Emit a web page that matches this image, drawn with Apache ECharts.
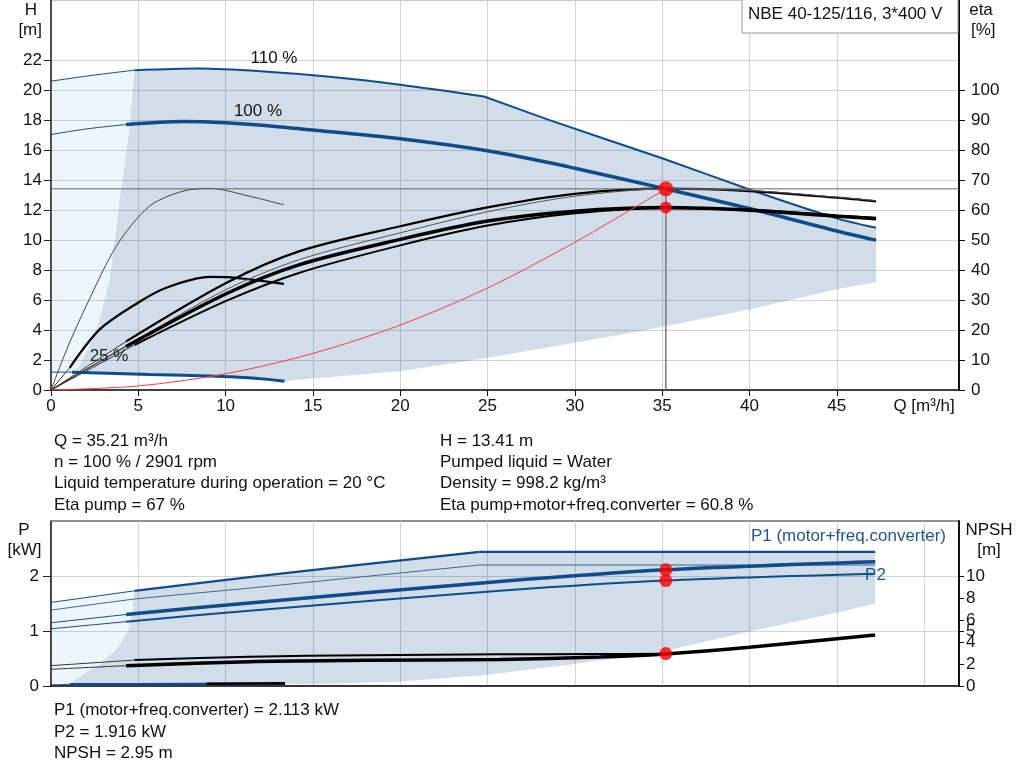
<!DOCTYPE html>
<html><head><meta charset="utf-8">
<script src="https://cdn.jsdelivr.net/npm/echarts@6/dist/echarts.min.js"></script>
<style>html,body{margin:0;padding:0;background:#fff;}#c{width:1024px;height:781px;}</style>
</head><body><div id="c"></div>
<script>
// ---------- operating point ----------
const opQ = 35.21, opH = 13.41, opEta = 60.8, opP1 = 2.113, opP2 = 1.916, opNPSH = 2.95;

// ---------- QH curves (top) ----------
const qH110 = [0, 2.5, 4.78, 8.5, 12, 15.96, 20, 24.8];
const hH110 = [20.59, 21.0, 21.32, 21.43, 21.25, 20.88, 20.35, 19.57];
const qH110max = [24.8, 28.55, 35, 40, 45.1, 47.25];
const hH110max = [19.57, 17.99, 15.45, 13.37, 11.41, 10.81];
const qH100 = [0, 2, 4.3, 7.55, 10, 13, 16, 20, 25, 28.55, 30, 35.21, 40, 45, 47.25];
const hH100 = [17.03, 17.4, 17.7, 17.9, 17.81, 17.55, 17.21, 16.75, 15.95, 15.15, 14.78, 13.41, 12.1, 10.6, 9.99];
const qH25 = [0, 1.2, 5.65, 9.5, 11.5, 13.37];
const hH25 = [1.19, 1.19, 1.03, 0.92, 0.8, 0.59];
// operating-range boundaries (top)
const qMinTop = [1.2, 1.65, 2.2, 2.79, 3.36, 3.74, 3.95, 4.2, 4.45, 4.69, 4.78];
const hMinTop = [1.19, 1.59, 2.92, 4.7, 7.37, 10.7, 12.9, 14.8, 17, 20.03, 21.32];
const qLowTop = [13.37, 14.24, 20, 25, 30, 33.7, 40, 45.1, 47.25];
const hLowTop = [0.59, 0.7, 1.25, 2.15, 3.15, 3.92, 5.37, 6.75, 7.19];
// system curve
const qSys = [0, 5, 10, 15, 20, 25, 30, 35.21];
const hSys = [0, 0.27, 1.08, 2.44, 4.33, 6.8, 9.85, 13.41];

// ---------- efficiency curves (%) ----------
const qEtaP25 = [0, 0.9, 1.83, 3.74, 5.65, 7.56, 9.08, 11.37, 13.34];
const etaP25 = [0, 13.5, 25.7, 47.9, 61.3, 66.3, 67.2, 64.6, 61.7];
const qEtaT25 = [0, 1.07, 2.79, 4.98, 6.6, 9.08, 10.6, 13.34];
const etaT25 = [0, 7.4, 20.2, 29.1, 34.1, 37.7, 37.4, 35.4];
const qEtaP100 = [0, 4.3, 10, 14.24, 20, 25, 30, 35.21, 40, 45, 47.25];
const etaP100 = [0, 16.2, 35.6, 46.3, 54.6, 60.9, 65.4, 67.1, 66.3, 64.1, 62.9];
const qEtaP110 = [0, 4.78, 10, 14.24, 20, 25, 30, 35.21, 40, 45, 47.25];
const etaP110 = [0, 16.3, 33.4, 43.5, 52.4, 59.4, 64.6, 67.0, 66.5, 64.3, 63.1];
const qEtaT100 = [0, 4.3, 10, 14.24, 20, 25, 30, 35.21, 40, 45, 47.25];
const etaT100 = [0, 14.5, 32.0, 41.8, 50.2, 56.3, 59.6, 60.8, 59.9, 57.9, 57.1];
const qEtaT110 = [0, 4.78, 10, 14.24, 20, 25, 30, 35.21, 40, 45, 47.25];
const etaT110 = [0, 15, 29.6, 39.1, 48.2, 54.8, 58.9, 60.6, 60.1, 58.2, 57.4];

// ---------- power curves (bottom, kW) ----------
const qP1_110 = [0, 4.78, 11.37, 24.54];
const pP1_110 = [1.52, 1.73, 1.98, 2.44];
const qP1_110max = [24.54, 47.2];
const pP1_110max = [2.44, 2.44];
const qP2_110 = [0, 4.78, 11.37, 24.54];
const pP2_110 = [1.38, 1.58, 1.78, 2.2];
const qP2_110max = [24.54, 47.2];
const pP2_110max = [2.2, 2.2];
const qP1_100 = [0, 4.3, 11.37, 25.7, 35.21, 47.2];
const pP1_100 = [1.15, 1.30, 1.51, 1.9, 2.113, 2.26];
const qP2_100 = [0, 4.3, 11.37, 25.7, 35.21, 47.2];
const pP2_100 = [1.04, 1.17, 1.37, 1.73, 1.916, 2.04];
const qP25 = [0, 1.06, 8, 13.4];
const pP25 = [0.02, 0.03, 0.035, 0.04];
const qP25b = [8.9, 13.4];
const pP25b = [0.04, 0.05];
// boundaries (bottom)
const qMinBot = [1.06, 1.83, 2.79, 3.83, 4.41, 4.65, 4.78];
const pMinBot = [0.03, 0.21, 0.39, 0.69, 1.0, 1.3, 1.73];
const qLowBot = [13.4, 15, 20, 24.9, 30, 35.2, 40, 44.8, 47.2];
const pLowBot = [0.04, 0.03, 0.08, 0.2, 0.4, 0.64, 0.99, 1.32, 1.5];

// ---------- NPSH (m) ----------
const qN110 = [0, 4.78, 11.37, 18, 25.7, 31, 35.21];
const nN110 = [1.85, 2.36, 2.66, 2.8, 2.88, 2.91, 2.93];
const qN100 = [0, 4.3, 11.37, 18, 25.7, 31.4, 35.21, 40, 47.2];
const nN100 = [1.52, 1.85, 2.21, 2.33, 2.42, 2.63, 2.92, 3.52, 4.64];

// ---------- ticks ----------
const xTicks = [0, 5, 10, 15, 20, 25, 30, 35, 40, 45];
const hTicks = [0, 2, 4, 6, 8, 10, 12, 14, 16, 18, 20, 22];
const etaTicks = [0, 10, 20, 30, 40, 50, 60, 70, 80, 90, 100];
const pTicks = [0, 1, 2];
const npshTicks = [0, 2, 4, 5, 6, 8, 10];

// ---------- helpers ----------
const zip = (q, v) => q.map((x, i) => [x, v[i]]);
const seg = (q, v, a, b) => zip(q, v).filter(p => p[0] >= a && p[0] <= b);
const FONT = '"Liberation Sans", Arial, sans-serif';
const FS = 17;
const BLUE = '#0f4d8a';
const DARK = 'rgba(18,78,138,0.194)';
const LIGHT = 'rgba(100,170,240,0.11)';

function line(data, xi, yi, color, width, z, smooth) {
  return {type: 'line', xAxisIndex: xi, yAxisIndex: yi, data: data, showSymbol: false, symbol: 'none',
    smooth: smooth === undefined ? 0.3 : smooth, silent: true, z: z || 5,
    lineStyle: {color: color, width: width}};
}
function poly(pts, xi, yi, color) {
  return {type: 'custom', xAxisIndex: xi, yAxisIndex: yi, silent: true, z: 1, data: pts,
    renderItem: function (params, api) {
      if (params.dataIndex !== 0) return null;
      return {type: 'polygon', shape: {points: pts.map(p => api.coord(p))}, style: {fill: color}};
    }};
}
function dot(q, v, xi, yi, size) {
  return {type: 'scatter', xAxisIndex: xi, yAxisIndex: yi, data: [[q, v]], symbolSize: size, silent: true, z: 20,
    itemStyle: {color: '#ff0000'}};
}

// ---------- polygons built from curves ----------
const darkTop = [].concat(
  zip(qMinTop, hMinTop),
  seg(qH110, hH110, 4.79, 100),
  seg(qH110max, hH110max, 24.81, 100),
  zip(qLowTop, hLowTop).reverse(),
  seg(qH25, hH25, 1.2, 13.36).reverse()
);
const lightTop = [].concat(
  [[0, hH25[0]]],
  seg(qH110, hH110, 0, 4.78),
  zip(qMinTop, hMinTop).reverse().slice(1)
);
const darkBot = [].concat(
  zip(qMinBot, pMinBot),
  seg(qP1_110, pP1_110, 4.79, 100),
  seg(qP1_110max, pP1_110max, 24.55, 100),
  zip(qLowBot, pLowBot).reverse(),
  seg(qP25, pP25, 1.06, 13.39).reverse()
);
const lightBot = [].concat(
  [[0, pP25[0]]],
  seg(qP1_110, pP1_110, 0, 4.78),
  zip(qMinBot, pMinBot).reverse().slice(1)
);

const chart = echarts.init(document.getElementById('c'), null, {renderer: 'canvas'});

const axisLbl = {fontSize: FS, fontFamily: FONT, color: '#111'};
const series = [
  poly(lightTop, 0, 0, LIGHT),
  poly(darkTop, 0, 0, DARK),
  // QH
  line(seg(qH110, hH110, 0, 4.78), 0, 0, BLUE, 1),
  line(seg(qH110, hH110, 4.78, 100), 0, 0, BLUE, 2),
  line(zip(qH110max, hH110max), 0, 0, BLUE, 2, 5, 0.2),
  line(seg(qH100, hH100, 0, 4.3), 0, 0, BLUE, 1),
  line(seg(qH100, hH100, 4.3, 100), 0, 0, BLUE, 3.5),
  line(seg(qH25, hH25, 0, 1.2), 0, 0, BLUE, 1),
  line(seg(qH25, hH25, 1.2, 100), 0, 0, BLUE, 3),
  // system curve
  line(zip(qSys, hSys), 0, 0, '#ff3b3b', 1, 6),
  // efficiency
  line(zip(qEtaP25, etaP25), 0, 1, '#444', 1),
  line(seg(qEtaT25, etaT25, 0, 1.07), 0, 1, '#333', 1),
  line(seg(qEtaT25, etaT25, 1.07, 100), 0, 1, '#000', 2.2),
  line(seg(qEtaP100, etaP100, 0, 4.3), 0, 1, '#333', 1),
  line(seg(qEtaP100, etaP100, 4.3, 100), 0, 1, '#000', 2.2),
  line(zip(qEtaP110, etaP110), 0, 1, '#555', 1),
  line(seg(qEtaT100, etaT100, 0, 4.3), 0, 1, '#333', 1),
  line(seg(qEtaT100, etaT100, 4.3, 100), 0, 1, '#000', 3.5),
  line(seg(qEtaT110, etaT110, 0, 4.78), 0, 1, '#333', 1),
  line(seg(qEtaT110, etaT110, 4.78, 100), 0, 1, '#000', 2),
  // operating lines
  line([[0, opH], [52, opH]], 0, 0, '#666', 1, 7, false),
  line([[opQ, opH], [opQ, 0]], 0, 0, '#777', 1.5, 7, false),
  dot(opQ, opH, 0, 0, 15),
  dot(opQ, opEta, 0, 1, 12),

  // bottom
  poly(lightBot, 1, 2, LIGHT),
  poly(darkBot, 1, 2, DARK),
  line(seg(qP1_110, pP1_110, 0, 4.78), 1, 2, BLUE, 1),
  line(seg(qP1_110, pP1_110, 4.78, 100), 1, 2, BLUE, 2.2, 5, 0.2),
  line(zip(qP1_110max, pP1_110max), 1, 2, BLUE, 2.2, 5, false),
  line(zip(qP2_110, pP2_110), 1, 2, '#3d6590', 1, 5, 0.2),
  line(zip(qP2_110max, pP2_110max), 1, 2, '#3d6590', 1, 5, false),
  line(seg(qP1_100, pP1_100, 0, 4.3), 1, 2, BLUE, 1),
  line(seg(qP1_100, pP1_100, 4.3, 100), 1, 2, BLUE, 3.5),
  line(seg(qP2_100, pP2_100, 0, 4.3), 1, 2, BLUE, 1),
  line(seg(qP2_100, pP2_100, 4.3, 100), 1, 2, BLUE, 2),
  line(seg(qP25, pP25, 0, 1.06), 1, 2, BLUE, 1),
  line(seg(qP25, pP25, 1.06, 100), 1, 2, BLUE, 2.5),
  line(zip(qP25b, pP25b), 1, 2, '#000', 2.5),
  line(seg(qN110, nN110, 0, 4.78), 1, 3, '#333', 1),
  line(seg(qN110, nN110, 4.78, 100), 1, 3, '#000', 2),
  line(seg(qN100, nN100, 0, 4.3), 1, 3, '#333', 1),
  line(seg(qN100, nN100, 4.3, 100), 1, 3, '#000', 3.5),
  dot(opQ, opP1, 1, 2, 13),
  dot(opQ, opP2, 1, 2, 13),
  dot(opQ, opNPSH, 1, 3, 13)
];

function txt(x, y, text, opt) {
  opt = opt || {};
  return {type: 'text', x: x, y: y, z: 100, silent: true,
    style: {text: text, fontSize: FS, fontFamily: FONT, fill: opt.fill || '#111',
      align: opt.align || 'left', verticalAlign: 'middle'}};
}

const option = {
  animation: false,
  backgroundColor: '#fff',
  grid: [
    {left: 51, top: 0, width: 908, height: 390, show: true, borderColor: '#999', borderWidth: 1},
    {left: 51, top: 521, width: 908, height: 165, show: true, borderColor: '#222', borderWidth: 1}
  ],
  xAxis: [
    {gridIndex: 0, type: 'value', min: 0, max: 52, interval: 5,
      axisLine: {show: true, onZero: false, lineStyle: {color: '#111', width: 1.5}},
      axisTick: {show: true, length: 6, customValues: xTicks, lineStyle: {color: '#111'}},
      axisLabel: Object.assign({margin: 8, customValues: xTicks.concat([50]),
        formatter: v => v === 50 ? 'Q [m³/h]' : String(v)}, axisLbl),
      splitLine: {show: true, lineStyle: {color: '#d2d2d2', width: 1}}},
    {gridIndex: 1, type: 'value', min: 0, max: 52, interval: 5,
      axisLine: {show: true, onZero: false, lineStyle: {color: '#111', width: 1.5}},
      axisTick: {show: false}, axisLabel: {show: false},
      splitLine: {show: true, lineStyle: {color: '#d2d2d2', width: 1}}}
  ],
  yAxis: [
    {gridIndex: 0, type: 'value', min: 0, max: 26, interval: 2, position: 'left',
      axisLine: {show: true, lineStyle: {color: '#222', width: 1.5}},
      axisTick: {show: true, length: 7, customValues: hTicks, lineStyle: {color: '#222'}},
      axisLabel: Object.assign({margin: 9, customValues: hTicks.concat([24]),
        formatter: v => v === 24 ? '[m]' : String(v)}, axisLbl),
      splitLine: {show: true, lineStyle: {color: '#d2d2d2', width: 1}}},
    {gridIndex: 0, type: 'value', min: 0, max: 130, interval: 10, position: 'right',
      axisLine: {show: true, lineStyle: {color: '#111', width: 2}},
      axisTick: {show: true, length: 6, customValues: etaTicks, lineStyle: {color: '#111'}},
      axisLabel: Object.assign({margin: 12, customValues: etaTicks.concat([120]),
        formatter: v => v === 120 ? '[%]' : String(v)}, axisLbl),
      splitLine: {show: false}},
    {gridIndex: 1, type: 'value', min: 0, max: 3, interval: 1, position: 'left',
      axisLine: {show: true, lineStyle: {color: '#222', width: 1.5}},
      axisTick: {show: true, length: 8, customValues: pTicks, lineStyle: {color: '#222'}},
      axisLabel: Object.assign({margin: 12, customValues: pTicks}, axisLbl),
      splitLine: {show: true, lineStyle: {color: '#d2d2d2', width: 1}}},
    {gridIndex: 1, type: 'value', min: 0, max: 15, interval: 1, position: 'right',
      axisLine: {show: true, lineStyle: {color: '#111', width: 2}},
      axisTick: {show: true, length: 5, customValues: npshTicks, lineStyle: {color: '#111'}},
      axisLabel: Object.assign({margin: 7, customValues: npshTicks}, axisLbl),
      splitLine: {show: false}}
  ],
  graphic: [
    {type: 'rect', z: 90, silent: true, shape: {x: 742, y: -1, width: 216, height: 34},
      style: {fill: '#fff', stroke: '#999', lineWidth: 1}},
    txt(748, 14, 'NBE 40-125/116, 3*400 V'),
    txt(31, 10, 'H', {align: 'center'}),
    txt(981, 10, 'eta', {align: 'center'}),
    txt(24, 530, 'P', {align: 'center'}),
    txt(24.5, 550, '[kW]', {align: 'center'}),
    txt(989, 530, 'NPSH', {align: 'center'}),
    txt(989, 550, '[m]', {align: 'center'}),
    txt(274, 58, '110 %', {align: 'center'}),
    txt(258, 111, '100 %', {align: 'center'}),
    txt(109, 356, '25 %', {align: 'center', fill: '#222'}),
    txt(946, 536, 'P1 (motor+freq.converter)', {align: 'right', fill: '#1f5690'}),
    txt(875.5, 575, 'P2', {align: 'center', fill: '#1f5690'}),
    txt(54, 441, 'Q = 35.21 m³/h'),
    txt(54, 462, 'n = 100 % / 2901 rpm'),
    txt(54, 483, 'Liquid temperature during operation = 20 °C'),
    txt(54, 505, 'Eta pump = 67 %'),
    txt(440, 441, 'H = 13.41 m'),
    txt(440, 462, 'Pumped liquid = Water'),
    txt(440, 483, 'Density = 998.2 kg/m³'),
    txt(440, 505, 'Eta pump+motor+freq.converter = 60.8 %'),
    txt(54, 710, 'P1 (motor+freq.converter) = 2.113 kW'),
    txt(54, 732, 'P2 = 1.916 kW'),
    txt(54, 753, 'NPSH = 2.95 m')
  ],
  series: series
};
chart.setOption(option);
</script></body></html>
